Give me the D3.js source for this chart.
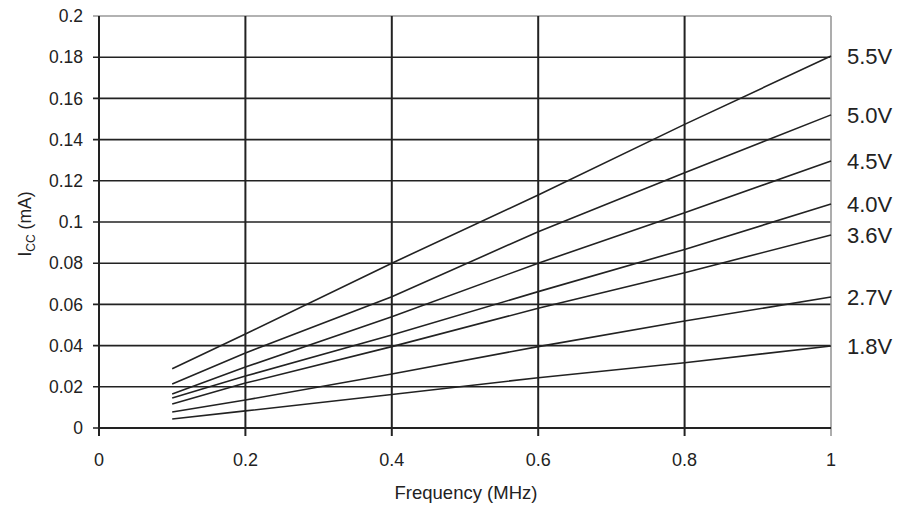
<!DOCTYPE html>
<html>
<head>
<meta charset="utf-8">
<script src="https://cdn.jsdelivr.net/npm/d3@7"></script>
<style>
  body { margin: 0; background: #fff; }
  svg { display: block; font-family: "Liberation Sans", Arial, sans-serif; }
</style>
</head>
<body>
<svg id="chart" width="903" height="508"></svg>
<script>
// frequency points (MHz) where the curves were read
const freqs = [0.1, 0.2, 0.4, 0.6, 0.8, 1.0];

// supply voltage labels, top to bottom
const voltages = ["5.5V", "5.0V", "4.5V", "4.0V", "3.6V", "2.7V", "1.8V"];

// Icc (mA) for each voltage at each frequency
const icc55 = [0.0288, 0.0456, 0.0800, 0.1131, 0.1474, 0.1806];
const icc50 = [0.0214, 0.0364, 0.0637, 0.0953, 0.1239, 0.1520];
const icc45 = [0.0165, 0.0296, 0.0540, 0.0800, 0.1045, 0.1296];
const icc40 = [0.0146, 0.0252, 0.0451, 0.0662, 0.0867, 0.1087];
const icc36 = [0.0117, 0.0218, 0.0395, 0.0581, 0.0754, 0.0937];
const icc27 = [0.0078, 0.0136, 0.0262, 0.0395, 0.0519, 0.0636];
const icc18 = [0.0044, 0.0083, 0.0163, 0.0244, 0.0317, 0.0398];

const xTicks = [0, 0.2, 0.4, 0.6, 0.8, 1];
const yTicks = d3.range(0, 0.2001, 0.02);

const series = [icc55, icc50, icc45, icc40, icc36, icc27, icc18];

const svg = d3.select("#chart");
const margin = {left: 99, right: 72, top: 16, bottom: 80};
const width = 903 - margin.left - margin.right;
const height = 508 - margin.top - margin.bottom;

const x = d3.scaleLinear().domain([0, 1]).range([margin.left, margin.left + width]);
const y = d3.scaleLinear().domain([0, 0.2]).range([margin.top + height, margin.top]);

// horizontal grid
svg.append("g").selectAll("line")
    .data(yTicks)
    .enter()
    .append("line")
    .attr("x1", x(0) - 6)
    .attr("x2", x(1))
    .attr("y1", function (d) { return y(d); })
    .attr("y2", function (d) { return y(d); })
    .attr("stroke", function (d) { return d > 0.199 ? "#999" : "#222"; })
    .attr("stroke-width", 1.6);

// vertical grid
svg.append("g").selectAll("line")
    .data(xTicks)
    .enter()
    .append("line")
    .attr("x1", function (d) { return x(d); })
    .attr("x2", function (d) { return x(d); })
    .attr("y1", y(0.2))
    .attr("y2", y(0) + 8)
    .attr("stroke", function (d) { return d === 1 ? "#999" : "#222"; })
    .attr("stroke-width", function (d) { return d === 1 ? 1.6 : 2; });

// bottom axis line
svg.append("line")
    .attr("x1", x(0)).attr("x2", x(1))
    .attr("y1", y(0)).attr("y2", y(0))
    .attr("stroke", "#222").attr("stroke-width", 2);

// y tick labels
svg.append("g").selectAll("text")
    .data(yTicks)
    .enter()
    .append("text")
    .attr("x", x(0) - 16)
    .attr("y", function (d) { return y(d); })
    .attr("dy", "0.35em")
    .attr("text-anchor", "end")
    .attr("font-size", 17.5)
    .attr("fill", "#222")
    .text(function (d) { return d3.format("~g")(+d.toFixed(2)); });

// x tick labels
svg.append("g").selectAll("text")
    .data(xTicks)
    .enter()
    .append("text")
    .attr("x", function (d) { return x(d); })
    .attr("y", 466)
    .attr("text-anchor", "middle")
    .attr("font-size", 18)
    .attr("fill", "#222")
    .text(function (d) { return d3.format("~g")(d); });

// x axis title
svg.append("text")
    .attr("x", 466)
    .attr("y", 499)
    .attr("text-anchor", "middle")
    .attr("font-size", 18.5)
    .attr("fill", "#222")
    .text("Frequency (MHz)");

// y axis title
const yTitle = svg.append("text")
    .attr("transform", "translate(31,224) rotate(-90)")
    .attr("text-anchor", "middle")
    .attr("font-size", 17.5)
    .attr("fill", "#222");
yTitle.append("tspan").text("I");
yTitle.append("tspan").attr("font-size", 12).attr("dy", 4).text("CC");
yTitle.append("tspan").attr("dy", -4).text(" (mA)");

// curves
const line = d3.line()
    .x(function (d, i) { return x(freqs[i]); })
    .y(function (d) { return y(d); });

svg.append("g").selectAll("path")
    .data(series)
    .enter()
    .append("path")
    .attr("d", line)
    .attr("fill", "none")
    .attr("stroke", "#222")
    .attr("stroke-width", 1.6);

// voltage labels at curve ends
svg.append("g").selectAll("text")
    .data(series)
    .enter()
    .append("text")
    .attr("x", x(1) + 16)
    .attr("y", function (d) { return y(d[d.length - 1]); })
    .attr("dy", "0.35em")
    .attr("font-size", 22)
    .attr("fill", "#222")
    .text(function (d, i) { return voltages[i]; });
</script>
</body>
</html>
